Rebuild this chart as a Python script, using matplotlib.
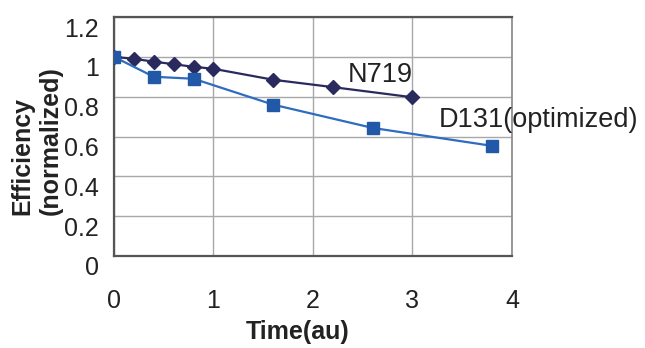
# Efficiency (normalized) vs time for N719 and D131

import matplotlib.pyplot as plt
import matplotlib.transforms as mtransforms

plt.rcParams['font.family'] = ['Liberation Sans', 'DejaVu Sans']

n719_t = [0, 0.2, 0.4, 0.6, 0.8, 1.0, 1.6, 2.2, 3.0]
n719_eff = [1.0, 0.99, 0.976, 0.963, 0.95, 0.94, 0.885, 0.848, 0.797]

d131_t = [0, 0.4, 0.8, 1.6, 2.6, 3.8]
d131_eff = [1.0, 0.90, 0.89, 0.76, 0.643, 0.553]

xticks = [0, 1, 2, 3, 4]
yticks = [0, 0.2, 0.4, 0.6, 0.8, 1.0, 1.2]
yticklabels = ['0', '0.2', '0.4', '0.6', '0.8', '1', '1.2']

fig = plt.figure(figsize=(6.45, 3.48), dpi=100)
ax = fig.add_axes([0.1767, 0.2644, 0.6171, 0.6867])

ax.plot(n719_t, n719_eff, color='#2b2a5e', lw=1.6, marker='D', ms=7,
        mfc='#2b2a5e', mec='#2b2a5e', zorder=3)
ax.plot(d131_t, d131_eff, color='#2d6cc0', lw=1.6, marker='s', ms=9,
        mfc='#2159a8', mec='#2159a8', zorder=4)

ax.set_xlim(0, 4)
ax.set_ylim(0, 1.2)
ax.set_xticks(xticks)
ax.set_yticks(yticks)
ax.set_yticklabels(yticklabels)
ax.grid(True, color='#a8a8a8', lw=1.0)
ax.set_axisbelow(True)
for side in ['left', 'bottom', 'top']:
    ax.spines[side].set_color('#555555')
    ax.spines[side].set_linewidth(1.6)
ax.spines['right'].set_color('#888888')
ax.spines['right'].set_linewidth(1.2)

ax.tick_params(axis='both', length=0, labelsize=18, colors='#222222')
ax.tick_params(axis='x', pad=24)
ax.tick_params(axis='y', pad=11)
# y tick labels sit a little below their gridlines in the original
shift = mtransforms.ScaledTranslation(0, -10 / 100, fig.dpi_scale_trans)
for lab in ax.get_yticklabels():
    lab.set_transform(lab.get_transform() + shift)

ax.text(2.35, 0.91, 'N719', fontsize=19.5, ha='left', va='center', color='#222222')
ax.text(3.26, 0.683, 'D131(optimized)', fontsize=19.5, ha='left', va='center',
        color='#222222')

fig.text(0.462, 0.045, 'Time(au)', fontsize=18, fontweight='bold',
         ha='center', va='center', color='#222222')
fig.text(0.035, 0.382, 'Efficiency', fontsize=18, fontweight='bold', rotation=90,
         ha='center', va='bottom', color='#222222')
fig.text(0.079, 0.382, '(normalized)', fontsize=18, fontweight='bold', rotation=90,
         ha='center', va='bottom', color='#222222')

fig.savefig('out.png', dpi=100)
plt.close()
